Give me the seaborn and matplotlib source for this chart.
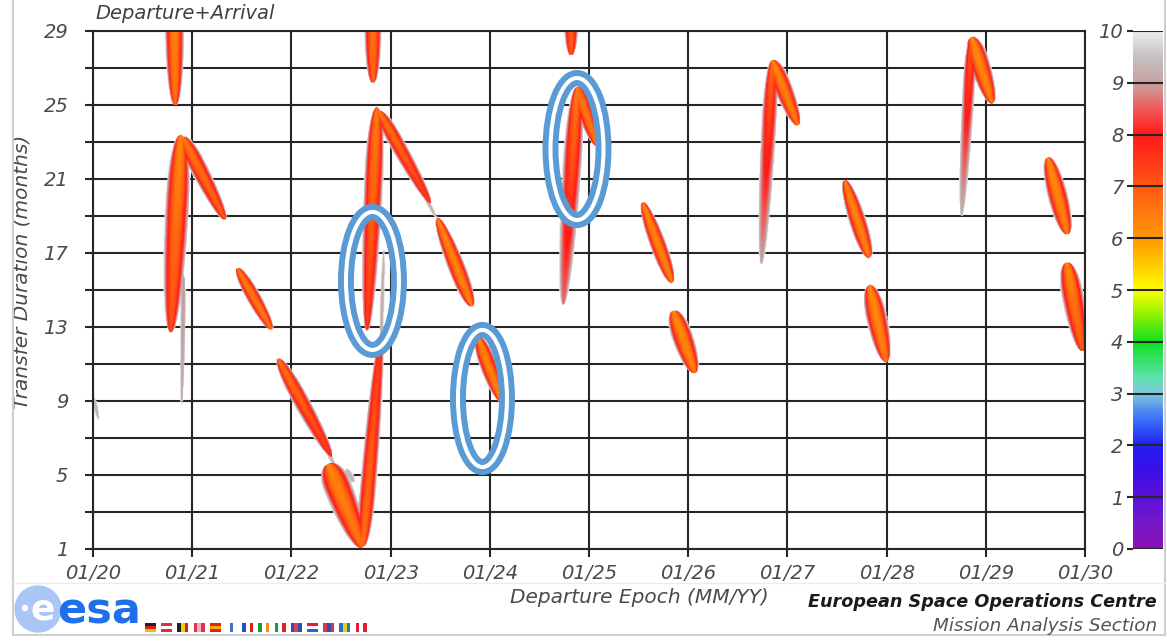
import numpy as np
import pandas as pd
import seaborn as sns
import matplotlib.pyplot as plt
from matplotlib.colors import LinearSegmentedColormap
from matplotlib.patches import Ellipse, Rectangle
from matplotlib.lines import Line2D

# launch window streaks (departure in years of 20xx, transfer duration in months)
dep_start = [20.815, 20.88, 20.90, 20.91, 21.45, 21.86, 22.30, 22.37, 22.72, 22.90, 22.55,
             22.82, 22.86, 22.88, 23.30, 23.47, 23.88, 24.82, 24.88, 24.88, 25.54, 25.85,
             26.85, 26.85, 27.58, 27.83, 28.86, 28.86, 29.63, 29.82, 20.00]
dur_start = [30.2, 23.4, 23.3, 15.8, 16.2, 11.3, 7.0, 5.6, 1.1, 12.0, 5.3,
             30.2, 24.9, 24.7, 20.5, 18.9, 12.46, 30.0, 26.0, 26.0, 19.76, 13.9,
             27.45, 27.45, 20.95, 15.27, 28.7, 28.7, 22.2, 16.5, 9.2]
dep_end = [20.825, 20.78, 21.33, 20.89, 21.80, 22.40, 22.44, 22.71, 22.90, 22.93, 22.63,
           22.82, 22.76, 23.40, 23.46, 23.82, 24.12, 24.82, 24.74, 25.08, 25.84, 26.07,
           26.74, 27.11, 27.83, 28.00, 28.76, 29.07, 29.83, 29.98, 20.05]
dur_end = [25.0, 12.7, 18.8, 8.8, 12.85, 6.0, 5.4, 1.05, 12.5, 17.2, 4.6,
           26.2, 12.8, 19.7, 18.9, 14.1, 8.95, 27.7, 14.2, 22.8, 15.38, 10.5,
           16.4, 23.9, 16.73, 11.1, 19.0, 25.1, 18.0, 11.7, 8.0]
half_width = [0.10, 0.125, 0.09, 0.03, 0.075, 0.085, 0.03, 0.15, 0.085, 0.025, 0.04,
              0.09, 0.10, 0.08, 0.025, 0.09, 0.09, 0.075, 0.10, 0.085, 0.085, 0.11,
              0.08, 0.095, 0.09, 0.11, 0.065, 0.105, 0.105, 0.115, 0.025]
peak_at = [0.2, 0.35, 0.3, 0.3, 0.45, 0.4, 0.5, 0.25, 0.25, 0.5, 0.5,
           0.25, 0.3, 0.3, 0.5, 0.6, 0.4, 0.2, 0.35, 0.3, 0.55, 0.4,
           0.3, 0.35, 0.55, 0.4, 0.25, 0.35, 0.5, 0.35, 0.4]
dv_start = [6.3, 6.2, 6.5, 8.9, 6.5, 6.5, 9.2, 6.3, 6.6, 9.1, 9.3,
            6.5, 6.4, 6.5, 9.3, 6.3, 6.3, 6.8, 6.4, 6.5, 6.3, 6.2,
            6.7, 6.3, 6.3, 6.2, 6.9, 6.2, 6.2, 6.2, 9.3]
dv_end = [6.6, 7.2, 7.0, 9.1, 6.6, 7.5, 9.4, 6.6, 7.5, 9.3, 9.3,
          6.8, 7.5, 7.5, 9.3, 6.4, 6.4, 7.0, 8.6, 6.6, 6.4, 6.4,
          9.0, 6.5, 6.4, 6.4, 9.2, 6.4, 6.4, 7.0, 9.3]

# highlighted windows
ring_dep = [22.817, 23.926, 24.879]
ring_dur = [15.49, 9.135, 22.62]
ring_w = [0.534, 0.494, 0.534]
ring_h = [7.46, 7.41, 7.68]

year_ticks = list(range(20, 31))
year_labels = ['01/%d' % y for y in year_ticks]
dur_ticks = list(range(1, 30, 2))
cbar_ticks = list(range(0, 11))

flag_colors = [('#222222', '#e02020', '#f0c000', 'h'), ('#e03040', '#ffffff', '#e03040', 'h'),
               ('#202020', '#f0d000', '#e02020', 'v'), ('#e03050', '#f4b0bc', '#e03050', 'v'),
               ('#e02020', '#f0b000', '#e02020', 'h'), ('#ffffff', '#4070d0', '#ffffff', 'v'),
               ('#2050d0', '#ffffff', '#e02020', 'v'), ('#10a040', '#ffffff', '#f09020', 'v'),
               ('#10a040', '#ffffff', '#e02020', 'v'), ('#3050b0', '#e04060', '#3050b0', 'v'),
               ('#e02030', '#ffffff', '#3060d0', 'h'), ('#e03050', '#3050b0', '#e03050', 'v'),
               ('#3070c0', '#e0d020', '#3070c0', 'v'), ('#e02030', '#ffffff', '#e02030', 'v')]

streaks = pd.DataFrame({'dep0': dep_start, 'dur0': dur_start, 'dep1': dep_end, 'dur1': dur_end,
                        'hw': half_width, 'tm': peak_at, 'dv0': dv_start, 'dv1': dv_end})

sns.set_theme(style='white')
plt.rcParams['font.family'] = ['DejaVu Sans']

W, H = 1167, 641
fig = plt.figure(figsize=(W / 100, H / 100), dpi=100)
ax = fig.add_axes([93 / W, 1 - 549 / H, 992 / W, 518 / H])
cax = fig.add_axes([1133 / W, 1 - 549 / H, 30 / W, 518 / H])

# delta-v field on a departure/duration grid, pixel-scaled distances
sx = 992 / 10.0
sy = 518 / 28.0
gx = np.linspace(20, 30, 1000)
gy = np.linspace(1, 29, 560)
X, Y = np.meshgrid(gx, gy)
PX, PY = X * sx, Y * sy
field = np.full(X.shape, 12.0)
for s in streaks.itertuples():
    x0, y0 = s.dep0 * sx, s.dur0 * sy
    dx, dy = s.dep1 * sx - x0, s.dur1 * sy - y0
    t = np.clip(((PX - x0) * dx + (PY - y0) * dy) / (dx * dx + dy * dy), 0, 1)
    d = np.hypot(PX - (x0 + t * dx), PY - (y0 + t * dy))
    u = np.where(t < s.tm, (s.tm - t) / s.tm, (t - s.tm) / (1 - s.tm))
    w = s.hw * sx * np.clip(1 - u ** 2, 0, None) ** 0.45 + 0.3
    core = s.dv0 + (s.dv1 - s.dv0) * t
    field = np.minimum(field, core + (10.4 - core) * np.minimum(d / w, 3) ** 2.2)
field = np.minimum(field, 12.0)

stops = [0.0, 0.05, 0.1, 0.15, 0.2, 0.25, 0.3, 0.33, 0.37, 0.4, 0.45, 0.5, 0.55,
         0.6, 0.65, 0.7, 0.75, 0.8, 0.85, 0.9, 0.95, 1.0]
colors = ['#8a10b8', '#7418c8', '#5a10d8', '#3a10e8', '#2020f0', '#3a70f8', '#80c8e0',
          '#60e0b0', '#30e060', '#10e020', '#90f000', '#ffff00', '#ffc800', '#ff9800',
          '#ff7810', '#ff5a10', '#ff3818', '#ff1818', '#f05858', '#c8a0a0', '#c4c0c0', '#ececec']
cmap = LinearSegmentedColormap.from_list('dv', list(zip(stops, colors)))
cmap.set_over((1, 1, 1, 0))

ax.set_axisbelow(True)
im = ax.imshow(field, extent=(20, 30, 1, 29), origin='lower', aspect='auto',
               cmap=cmap, vmin=0, vmax=10, interpolation='bilinear', zorder=1)

for i in range(len(ring_dep)):
    ax.add_patch(Ellipse((ring_dep[i], ring_dur[i]), ring_w[i], ring_h[i], fill=False,
                         ec='#5b9bd5', lw=11.5, zorder=3))
    ax.add_patch(Ellipse((ring_dep[i], ring_dur[i]), ring_w[i], ring_h[i], fill=False,
                         ec='white', lw=2.9, zorder=4))

ax.set_xlim(20, 30)
ax.set_ylim(1, 29)
ax.set_xticks(year_ticks)
ax.set_xticklabels(year_labels)
ax.set_yticks(dur_ticks)
ax.set_yticklabels([str(v) if (v - 1) % 4 == 0 else '' for v in dur_ticks])
ax.grid(True, color='#262626', lw=1.5)
ax.tick_params(direction='out', length=5.8, width=1.5, color='#262626',
               labelsize=14, labelcolor='#4a4a4a', left=True, bottom=True)
ax.tick_params(axis='y', pad=12)
ax.tick_params(axis='x', pad=5)
for lab in ax.get_xticklabels() + ax.get_yticklabels():
    lab.set_fontstyle('italic')
for sp in ax.spines.values():
    sp.set_color('#262626')
    sp.set_linewidth(1.5)

ax.set_ylabel('Transfer Duration (months)', fontsize=14.5, style='italic', color='#4a4a4a')
ax.yaxis.set_label_coords(-0.0716, 0.535)
ax.yaxis.label.set_va('center')
ax.set_xlabel('Departure Epoch (MM/YY)', fontsize=14.5, style='italic', color='#4a4a4a')
ax.xaxis.set_label_coords(0.551, -0.0927)
ax.xaxis.label.set_va('center')
ax.text(0.002, 1.033, 'Departure+Arrival', transform=ax.transAxes, fontsize=14,
        style='italic', color='#404040', ha='left', va='center')

cb = fig.colorbar(im, cax=cax, ticks=cbar_ticks)
cb.outline.set_visible(False)
cax.yaxis.set_ticks_position('left')
cax.tick_params(length=4, width=1.5, color='#262626', labelsize=14, labelcolor='#4a4a4a', pad=3)
for lab in cax.get_yticklabels():
    lab.set_fontstyle('italic')
for v in cbar_ticks:
    cax.axhline(v, color='#262626', lw=1.5)

# footer
fig.text(1157 / W, 1 - 602 / H, 'European Space Operations Centre', fontsize=12.7,
         weight='bold', style='italic', color='#1a1a1a', ha='right', va='center')
fig.text(1157 / W, 1 - 626 / H, 'Mission Analysis Section', fontsize=13.2,
         style='italic', color='#555555', ha='right', va='center')

fig.add_artist(Ellipse((38 / W, 1 - 609 / H), 46 / W, 46 / H, transform=fig.transFigure,
                       color='#a9c6f5', zorder=2))
fig.text(43 / W, 1 - 609 / H, 'e', fontsize=26, weight='bold', color='white',
         ha='center', va='center', zorder=3)
fig.add_artist(Ellipse((25 / W, 1 - 608 / H), 5 / W, 5 / H, transform=fig.transFigure,
                       color='white', zorder=3))
fig.text(57 / W, 1 - 611 / H, 'esa', fontsize=31, weight='bold', color='#1f6fe8',
         ha='left', va='center', zorder=3)

for i, (c1, c2, c3, orient) in enumerate(flag_colors):
    fx = (145 + i * 16.2) / W
    fy = 1 - 632 / H
    fw, fh = 11 / W, 9 / H
    for k, c in enumerate((c1, c2, c3)):
        if orient == 'v':
            r = Rectangle((fx + k * fw / 3, fy), fw / 3, fh, transform=fig.transFigure, color=c, lw=0)
        else:
            r = Rectangle((fx, fy + (2 - k) * fh / 3), fw, fh / 3, transform=fig.transFigure, color=c, lw=0)
        fig.add_artist(r)

frame = '#cfcfcf'
fig.add_artist(Line2D([13 / W, 13 / W], [1 - 635 / H, 1], transform=fig.transFigure, color=frame, lw=1.5))
fig.add_artist(Line2D([1165 / W, 1165 / W], [1 - 635 / H, 1], transform=fig.transFigure, color=frame, lw=1.5))
fig.add_artist(Line2D([13 / W, 1165 / W], [1 - 635 / H, 1 - 635 / H], transform=fig.transFigure, color=frame, lw=1.5))
fig.add_artist(Line2D([13 / W, 1165 / W], [1 - 583 / H, 1 - 583 / H], transform=fig.transFigure, color='#ececec', lw=1))

fig.savefig('out.png', dpi=100)
